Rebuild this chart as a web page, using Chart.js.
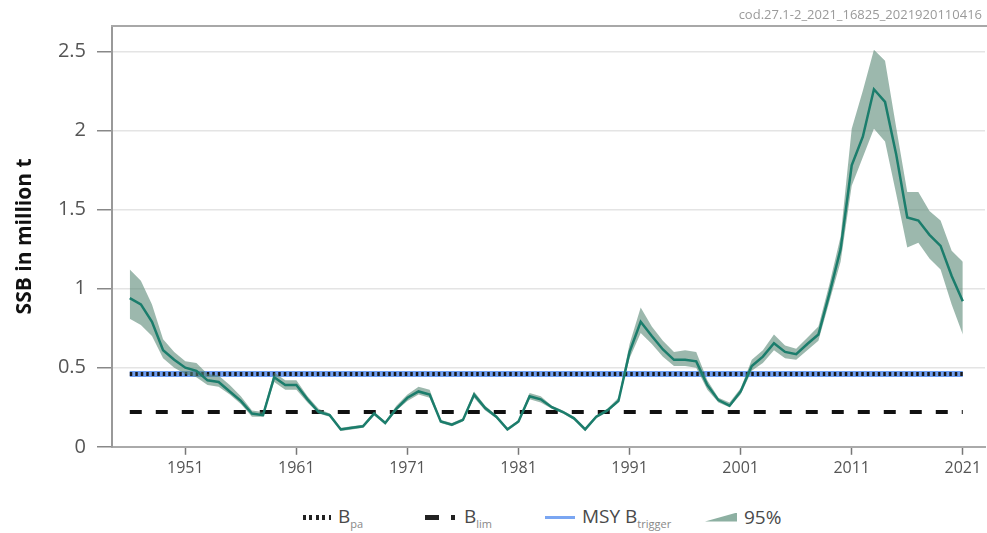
<!DOCTYPE html>
<html>
<head>
<meta charset="utf-8">
<script src="https://cdn.jsdelivr.net/npm/chart.js@4/dist/chart.umd.min.js"></script>
<style>
    body { margin: 0; background: #fff; font-family: "Open Sans", sans-serif; }
    #wrap { position: relative; width: 987px; height: 533px; }
    #chart-box { position: absolute; left: 0; top: 0; width: 987px; height: 492px; }
    #code { position: absolute; right: 5px; top: 5px; font-size: 13px; color: #9a9a9a; }
    #frame-top { position: absolute; left: 111px; top: 25px; width: 876px; height: 2px; background: #a8a8a8; }
    #legend { position: absolute; left: 0; top: 503px; width: 987px; height: 28px; font-size: 19px; color: #4a4a4a; }
    #legend .item { position: absolute; top: 0; display: flex; align-items: center; height: 28px; white-space: nowrap; }
    #legend sub { font-size: 11px; color: #888; vertical-align: -5px; }
    .sw { margin-right: 7px; }
    .sw-dot { width: 28px; height: 5px; background: repeating-linear-gradient(90deg, #222 0 3px, transparent 3px 6.5px); }
    .sw-dash { width: 32px; height: 5px; background: linear-gradient(90deg, #222 0 14px, transparent 14px 26px, #222 26px 30px, transparent 30px); }
    .sw-line { width: 30px; height: 3px; background: #7aa6f2; }
    .sw-band { width: 32px; height: 9px; background: #8db0a2; clip-path: polygon(0 100%, 100% 0, 100% 100%); }
</style>
</head>
<body>
<div id="wrap">
    <div id="chart-box"><canvas id="ssb-chart"></canvas></div>
    <div id="frame-top"></div>
    <div id="code">cod.27.1-2_2021_16825_2021920110416</div>
    <div id="legend">
        <div class="item" style="left:303px"><div class="sw sw-dot"></div><span>B<sub>pa</sub></span></div>
        <div class="item" style="left:425px"><div class="sw sw-dash"></div><span>B<sub>lim</sub></span></div>
        <div class="item" style="left:545px"><div class="sw sw-line"></div><span>MSY B<sub>trigger</sub></span></div>
        <div class="item" style="left:705px"><div class="sw sw-band"></div><span>95%</span></div>
    </div>
</div>
<script>
// Spawning stock biomass, million t
const years = [
    1946, 1947, 1948, 1949, 1950, 1951, 1952, 1953, 1954, 1955,
    1956, 1957, 1958, 1959, 1960, 1961, 1962, 1963, 1964, 1965,
    1966, 1967, 1968, 1969, 1970, 1971, 1972, 1973, 1974, 1975,
    1976, 1977, 1978, 1979, 1980, 1981, 1982, 1983, 1984, 1985,
    1986, 1987, 1988, 1989, 1990, 1991, 1992, 1993, 1994, 1995,
    1996, 1997, 1998, 1999, 2000, 2001, 2002, 2003, 2004, 2005,
    2006, 2007, 2008, 2009, 2010, 2011, 2012, 2013, 2014, 2015,
    2016, 2017, 2018, 2019, 2020, 2021
];
const ssb = [
    0.94, 0.90, 0.79, 0.61, 0.55, 0.50, 0.48, 0.42, 0.41, 0.35,
    0.29, 0.21, 0.20, 0.44, 0.39, 0.39, 0.30, 0.22, 0.20, 0.11,
    0.12, 0.13, 0.21, 0.15, 0.24, 0.31, 0.35, 0.33, 0.16, 0.14,
    0.17, 0.33, 0.245, 0.19, 0.11, 0.16, 0.32, 0.30, 0.25, 0.22,
    0.18, 0.11, 0.19, 0.23, 0.29, 0.60, 0.79, 0.70, 0.615, 0.55,
    0.55, 0.54, 0.39, 0.295, 0.26, 0.35, 0.51, 0.57, 0.655, 0.60,
    0.585, 0.65, 0.71, 0.97, 1.25, 1.78, 1.96, 2.26, 2.18, 1.85,
    1.45, 1.43, 1.34, 1.27, 1.08, 0.92
];
const ssbLow = [
    0.81, 0.77, 0.70, 0.56, 0.50, 0.46, 0.44, 0.39, 0.38, 0.33,
    0.27, 0.19, 0.19, 0.41, 0.36, 0.36, 0.28, 0.21, 0.19, 0.10,
    0.11, 0.12, 0.20, 0.14, 0.23, 0.29, 0.33, 0.31, 0.15, 0.13,
    0.16, 0.31, 0.23, 0.18, 0.10, 0.15, 0.30, 0.28, 0.24, 0.21,
    0.17, 0.10, 0.18, 0.22, 0.28, 0.56, 0.72, 0.65, 0.57, 0.51,
    0.51, 0.50, 0.36, 0.28, 0.25, 0.33, 0.48, 0.53, 0.61, 0.56,
    0.55, 0.61, 0.67, 0.92, 1.17, 1.65, 1.83, 2.01, 1.93, 1.60,
    1.26, 1.29, 1.19, 1.12, 0.90, 0.71
];
const ssbHigh = [
    1.12, 1.05, 0.90, 0.68, 0.60, 0.54, 0.53, 0.46, 0.45, 0.39,
    0.32, 0.23, 0.22, 0.47, 0.42, 0.42, 0.32, 0.24, 0.21, 0.12,
    0.13, 0.14, 0.22, 0.16, 0.26, 0.33, 0.38, 0.36, 0.17, 0.15,
    0.18, 0.35, 0.26, 0.20, 0.12, 0.17, 0.34, 0.32, 0.26, 0.23,
    0.19, 0.12, 0.20, 0.24, 0.31, 0.65, 0.88, 0.76, 0.67, 0.60,
    0.61, 0.60, 0.42, 0.31, 0.28, 0.37, 0.55, 0.61, 0.71, 0.64,
    0.62, 0.69, 0.76, 1.03, 1.33, 2.01, 2.25, 2.51, 2.44, 2.02,
    1.61, 1.61, 1.49, 1.43, 1.24, 1.17
];

// Reference points
const refYears = [1946, 2021];
const bpa = 0.46;
const blim = 0.22;
const msyBtrigger = 0.46;

// Axis ticks
const xTicks = [1951, 1961, 1971, 1981, 1991, 2001, 2011, 2021];
const yTicks = [0, 0.5, 1, 1.5, 2, 2.5];

const xMin = 1944.4;
const xMax = 2023.0;

function toPoints(xs, ys) {
    return xs.map((x, i) => ({ x: x, y: ys[i] }));
}

function flatLine(value) {
    return refYears.map(x => ({ x: x, y: value }));
}

const ctx = document.getElementById('ssb-chart').getContext('2d');

new Chart(ctx, {
    type: 'line',
    data: {
        datasets: [
            {
                label: 'low',
                data: toPoints(years, ssbLow),
                borderWidth: 0,
                borderColor: 'rgba(0,0,0,0)',
                pointRadius: 0,
                fill: false,
                order: 5
            },
            {
                label: '95%',
                data: toPoints(years, ssbHigh),
                borderWidth: 0,
                borderColor: 'rgba(0,0,0,0)',
                backgroundColor: 'rgba(84, 132, 114, 0.58)',
                pointRadius: 0,
                fill: 0,
                order: 1
            },
            {
                label: 'MSY Btrigger',
                data: flatLine(msyBtrigger),
                borderColor: '#6f9ff2',
                borderWidth: 6,
                pointRadius: 0,
                fill: false,
                order: 4
            },
            {
                label: 'Bpa',
                data: flatLine(bpa),
                borderColor: '#1a1a1a',
                borderWidth: 4,
                borderDash: [2.5, 3],
                pointRadius: 0,
                fill: false,
                order: 3
            },
            {
                label: 'Blim',
                data: flatLine(blim),
                borderColor: '#111',
                borderWidth: 4,
                borderDash: [12, 14],
                pointRadius: 0,
                fill: false,
                order: 2
            },
            {
                label: 'SSB',
                data: toPoints(years, ssb),
                borderColor: '#1b7d6c',
                borderWidth: 2.5,
                pointRadius: 0,
                fill: false,
                tension: 0,
                order: 0
            }
        ]
    },
    options: {
        responsive: true,
        maintainAspectRatio: false,
        animation: false,
        layout: {
            padding: { top: 26, right: 2, bottom: 10, left: 0 }
        },
        plugins: {
            legend: { display: false },
            tooltip: { enabled: false },
            title: { display: false }
        },
        scales: {
            x: {
                type: 'linear',
                min: xMin,
                max: xMax,
                afterBuildTicks: (scale) => {
                    scale.ticks = xTicks.map(v => ({ value: v }));
                },
                ticks: {
                    color: '#555',
                    font: { family: '"Open Sans"', size: 16 },
                    padding: 4,
                    maxRotation: 0,
                    autoSkip: false,
                    callback: (v) => String(v)
                },
                grid: {
                    drawOnChartArea: false,
                    drawTicks: true,
                    tickLength: 8,
                    tickColor: '#777',
                    tickWidth: 1.5
                },
                border: { color: '#aaa', width: 2 }
            },
            y: {
                min: 0,
                max: 2.66,
                afterBuildTicks: (scale) => {
                    scale.ticks = yTicks.map(v => ({ value: v }));
                },
                afterFit: (scale) => { scale.width = 112; },
                ticks: {
                    color: '#555',
                    font: { family: '"Open Sans"', size: 20 },
                    padding: 11,
                    callback: (v) => String(v)
                },
                grid: {
                    color: '#e4e4e4',
                    lineWidth: 1.5,
                    tickLength: 15,
                    tickColor: '#888',
                    tickWidth: 1.5
                },
                border: { color: '#999', width: 2 },
                title: {
                    display: true,
                    text: 'SSB in million t',
                    color: '#111',
                    font: { family: '"Open Sans"', size: 21, weight: 'bold' },
                    padding: { top: 12, bottom: 0 }
                }
            }
        }
    }
});
</script>
</body>
</html>
